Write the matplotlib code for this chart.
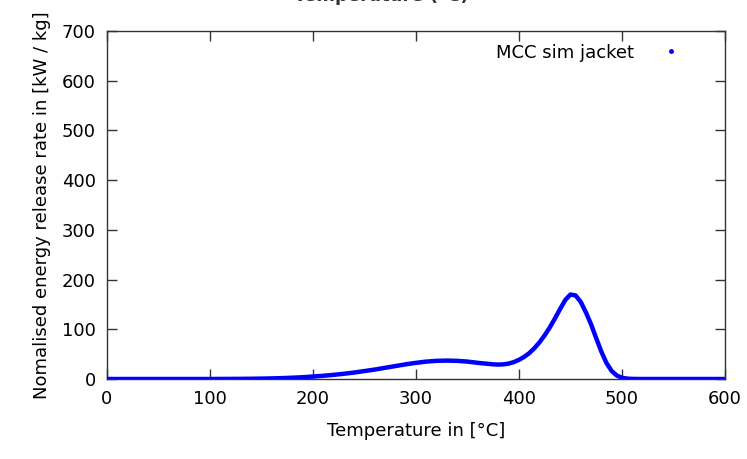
import matplotlib
matplotlib.use("Agg")
import matplotlib.pyplot as plt
from matplotlib.lines import Line2D

temperature = [0, 10, 20, 30, 40, 50, 60, 70, 80, 90, 100, 110, 120, 130, 140, 150, 160, 170, 180, 190,
               200, 210, 220, 230, 240, 250, 260, 270, 280, 290, 300, 310, 320, 330, 340, 350, 360, 370,
               375, 380, 385, 390, 395, 400, 405, 410, 415, 420, 425, 430, 435, 440, 445, 450, 455,
               460, 465, 470, 475, 480, 485, 490, 495, 500, 505, 510, 520,
               540, 560, 580, 600]
release_rate = [0, 0, 0, 0, 0, 0, 0, 0, 0, 0, 0, 0.1, 0.2, 0.3, 0.5, 0.8, 1.2, 1.8, 2.6, 3.6,
                5, 6.5, 8.3, 10.5, 13, 16, 19, 22.5, 26, 29.5, 32.5, 35, 36.5, 37, 36.5, 35, 32.5, 30.5,
                29.5, 29, 29.5, 31, 34, 38.5, 44.5, 52, 62, 74, 88, 104, 122, 141, 159, 170, 168,
                155, 134, 110, 82, 55, 32, 16, 7, 2.5, 0.8, 0.2, 0,
                0, 0, 0, 0]
series_label = "MCC sim jacket"
x_ticks = [0, 100, 200, 300, 400, 500, 600]
y_ticks = [0, 100, 200, 300, 400, 500, 600, 700]

fig = plt.figure(figsize=(7.47, 4.59), dpi=100)
ax = fig.add_axes([0.1432, 0.1743, 0.8273, 0.7582])

ax.plot(temperature, release_rate, color="#0000ff", linewidth=3.2, solid_capstyle="butt",
        solid_joinstyle="round", zorder=3)

ax.set_xlim(0, 600)
ax.set_ylim(0, 700)
ax.set_xticks(x_ticks)
ax.set_yticks(y_ticks)
ax.tick_params(direction="in", top=True, right=True, length=7, width=1, colors="#333333",
               labelcolor="black", labelsize=13, pad=8)
for s in ax.spines.values():
    s.set_color("#333333")
    s.set_linewidth(1)

ax.set_xlabel("Temperature in [°C]", fontsize=13, labelpad=10)
ax.set_ylabel("Nomalised energy release rate in [kW / kg]", fontsize=13, labelpad=8)

handle = Line2D([], [], color="#0000ff", marker="o", markersize=2.5, linestyle="none")
ax.legend([handle], [series_label], loc="upper right", frameon=False, markerfirst=False,
          fontsize=13, handlelength=2.5, borderaxespad=0.3, bbox_to_anchor=(0.97, 1.0))

fig.text(0.51, 1.0 - 1/459, "Temperature (°C)", ha="center", va="baseline",
         fontsize=13, fontweight="bold", color="#333333")

fig.savefig("out.png", dpi=100)
